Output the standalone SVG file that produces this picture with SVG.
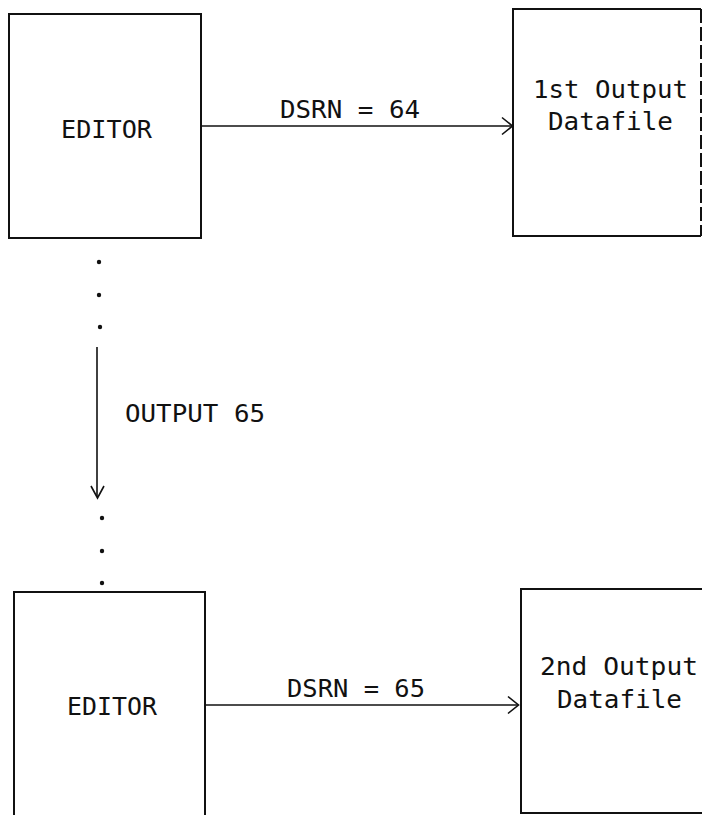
<svg xmlns="http://www.w3.org/2000/svg" width="702" height="815" viewBox="0 0 702 815">
  <style>
    .box { fill: none; stroke: #111; stroke-width: 2; }
    .conn { fill: none; stroke: #111; stroke-width: 1.6; }
    .head { fill: none; stroke: #111; stroke-width: 1.6; stroke-linejoin: miter; }
    .lbl { font-family: "DejaVu Sans Mono", "Liberation Mono", monospace; font-size: 25px; fill: #111; }
    .dot { fill: #111; }
  </style>
  <rect width="702" height="815" fill="#fff"/>

  <g id="editor1">
    <rect class="box" x="9" y="14" width="192" height="224"/>
    <text class="lbl" x="61" y="138" textLength="91" lengthAdjust="spacingAndGlyphs">EDITOR</text>
  </g>

  <g id="output1">
    <path class="box" d="M701,9 L513,9 L513,236 L701,236"/>
    <path class="box" d="M701,9 L701,236" stroke-dasharray="14,4"/>
    <text class="lbl" x="533" y="98" textLength="155" lengthAdjust="spacingAndGlyphs">1st Output</text>
    <text class="lbl" x="548" y="130" textLength="125" lengthAdjust="spacingAndGlyphs">Datafile</text>
  </g>

  <g id="editor2">
    <path class="box" d="M14,815 L14,592 L205,592 L205,815"/>
    <text class="lbl" x="67" y="715" textLength="90" lengthAdjust="spacingAndGlyphs">EDITOR</text>
  </g>

  <g id="output2">
    <path class="box" d="M702,589 L521,589 L521,813 L702,813"/>
    <text class="lbl" x="540" y="675" textLength="158" lengthAdjust="spacingAndGlyphs">2nd Output</text>
    <text class="lbl" x="557" y="708" textLength="125" lengthAdjust="spacingAndGlyphs">Datafile</text>
  </g>

  <g id="connectors">
    <line class="conn" x1="201" y1="126" x2="512" y2="126"/>
    <path class="head" d="M502,117.5 L512.5,126 L502,134.5"/>
    <text class="lbl" x="280" y="118" textLength="140" lengthAdjust="spacingAndGlyphs">DSRN = 64</text>

    <line class="conn" x1="205" y1="705" x2="518" y2="705"/>
    <path class="head" d="M508,696.5 L518.5,705 L508,713.5"/>
    <text class="lbl" x="287" y="697" textLength="138" lengthAdjust="spacingAndGlyphs">DSRN = 65</text>

    <line class="conn" x1="97" y1="347" x2="97" y2="497"/>
    <path class="head" d="M91,486 L97.5,498 L104,486"/>
    <text class="lbl" x="125" y="422" textLength="140" lengthAdjust="spacingAndGlyphs">OUTPUT 65</text>

    <circle class="dot" cx="99" cy="262" r="2.2"/>
    <circle class="dot" cx="99" cy="295" r="2.2"/>
    <circle class="dot" cx="100" cy="327" r="2.2"/>
    <circle class="dot" cx="102" cy="518" r="2.2"/>
    <circle class="dot" cx="102" cy="551" r="2.2"/>
    <circle class="dot" cx="102" cy="583" r="2.2"/>
  </g>
</svg>
